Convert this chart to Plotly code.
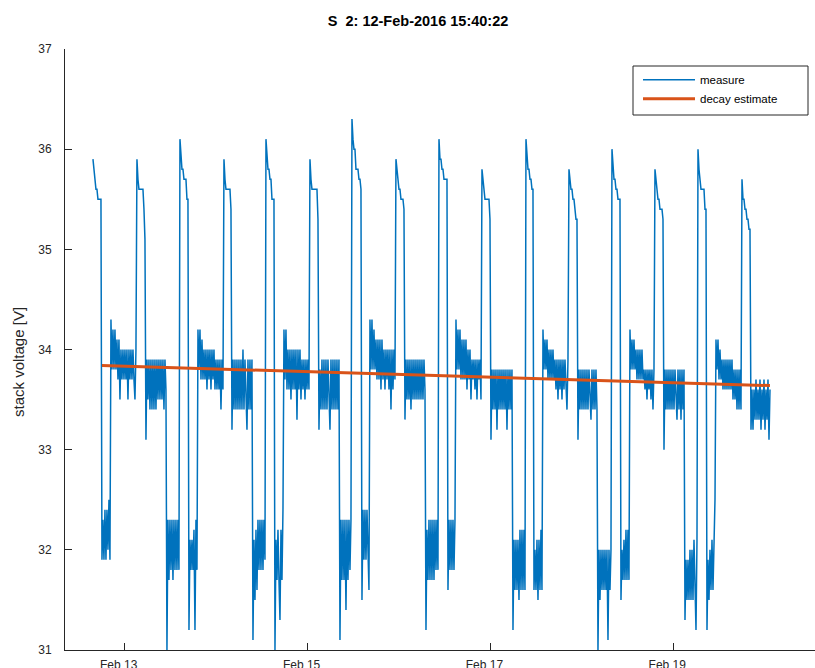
import pandas as pd
import plotly.graph_objects as go

# ---- data (stack voltage, tenths of a volt, one sample every 945 s) ----
START = "2016-02-12 15:40:22"
SAMPLE_SECONDS = 945

cyc_a = [359,358,357,356,356,355,355,355,355,
         319,323,319,324,319,324,320,325,319,
         343,338,342,338,342,338,341,337,341,335,340,337,340,337,340,337,340,335,340,337,340,337,340,337,335,340]
cyc_b = [359,357,356,356,356,356,356,354,351,
         331,339,335,339,334,339,334,339,334,339,334,339,335,339,335,339,335,339,334,339,336,
         310,323,317,323,318,323,317,323,318,323,318,323,318]
cyc_c = [361,359,358,358,357,357,357,355,355,
         312,321,318,321,318,322,312,323,318,
         342,338,342,337,341,337,340,337,340,336,340,337,340,336,340,337,340,336,339,336,339,336,339,334,339,336]
cyc_d = [359,357,356,356,356,356,356,354,
         332,339,334,339,334,339,334,339,334,339,334,340,334,339,334,332,339,334,339,334,339,
         311,321,315,322,316,323,318,323,318,323,318,323,319]
cyc_e = [361,359,358,358,357,357,355,355,355,
         310,321,317,322,317,313,322,317,324,
         342,337,342,336,340,336,340,335,340,336,340,336,340,333,340,336,340,335,339,336,339,335,339,336,339,336]
cyc_f = [359,357,356,356,356,356,356,356,353,
         332,338,334,339,334,339,334,339,334,339,334,332,339,334,339,334,339,334,339,334,339,
         311,323,317,323,317,323,314,323,317,323,318,323]
cyc_g = [363,361,360,360,358,358,358,357,357,356,
         315,324,319,324,319,324,319,316,
         343,338,343,338,342,338,341,337,341,337,341,336,341,337,340,336,340,337,340,336,340,334,340,336,340,337]
cyc_h = [359,358,357,356,356,355,355,355,354,
         333,339,335,339,335,339,334,339,335,339,335,339,335,339,335,339,335,339,335,339,336,
         312,322,317,323,317,323,317,323,317,323,318,323,318]
cyc_i = [361,359,359,358,358,357,357,357,357,
         316,323,318,323,318,323,318,323,
         343,338,342,338,342,337,341,337,341,337,341,336,340,337,340,335,339,337,339,336,339,335,339,337,339,335]
cyc_j = [358,357,356,355,355,355,355,355,353,
         331,338,334,338,334,338,332,338,334,338,334,338,334,338,334,338,332,338,334,338,334,338,
         312,321,316,321,316,321,315,322,316,322,316,322,316]
cyc_k = [361,359,358,358,357,357,356,356,
         316,320,316,321,315,321,316,322,316,
         342,338,341,338,341,337,340,337,340,337,340,337,339,336,339,335,339,336,339,335,339,336,339,335,334,339]
cyc_l = [358,357,356,356,355,355,354,353,353,
         331,338,334,338,334,338,334,338,334,338,334,338,334,333,338,334,338,334,338,334,
         310,320,315,320,316,320,316,320,316,320,311,320,316,320]
cyc_m = [360,358,357,357,356,356,355,355,355,
         315,320,317,321,317,322,317,322,317,
         342,338,341,338,341,338,340,337,340,337,340,337,340,337,338,336,338,335,338,336,338,335,338,334,338]
cyc_n = [358,357,356,355,355,354,354,354,353,
         330,338,334,338,334,338,334,338,334,338,334,338,334,333,338,334,338,333,338,334,338,
         313,319,315,319,315,320,315,320,315,321,315,312,321]
cyc_o = [360,358,357,356,356,356,356,354,354,
         312,319,315,320,316,321,316,322,325,
         341,338,341,337,340,337,339,336,339,336,339,336,339,336,339,336,339,335,338,335,338,334,338,334,338,334]
cyc_p = [357,355,355,354,354,353,353,352,352,
         332,336,332,336,333,337,333,336,333,337,332,336,333,337,332,336,333,337,331,336]

decay_times = ["2016-02-12 18:02", "2016-02-20 01:23"]
decay_values = [33.84, 33.64]

# ---- build ----
tenths = (cyc_a + cyc_b + cyc_c + cyc_d + cyc_e + cyc_f + cyc_g + cyc_h +
          cyc_i + cyc_j + cyc_k + cyc_l + cyc_m + cyc_n + cyc_o + cyc_p)
volts = [v / 10 for v in tenths]
times = pd.date_range(START, periods=len(volts), freq=f"{SAMPLE_SECONDS}s")

AX = "#262626"
FONT = "Liberation Sans, Arial, Helvetica, sans-serif"

fig = go.Figure()
fig.add_trace(go.Scatter(x=times, y=volts, mode="lines", name="measure",
                         line=dict(color="#0072BD", width=1.5)))
fig.add_trace(go.Scatter(x=pd.to_datetime(decay_times), y=decay_values, mode="lines",
                         name="decay estimate", line=dict(color="#D95319", width=3)))

fig.update_layout(
    width=815, height=668,
    margin=dict(l=65, r=0, t=49, b=18, autoexpand=False),
    paper_bgcolor="white", plot_bgcolor="white",
    font=dict(family=FONT, size=12, color=AX),
    title=dict(text="<b>S \u00a02: 12-Feb-2016 15:40:22</b>", x=0.4707, xref="paper",
               xanchor="center", y=0.969, yref="container", yanchor="middle",
               font=dict(family=FONT, size=14.5, color="black")),
    showlegend=True,
    legend=dict(x=(638 - 65) / 750, y=0.973, xanchor="left", yanchor="top",
                bgcolor="rgba(0,0,0,0)", borderwidth=0, itemwidth=52,
                font=dict(family=FONT, size=11.5, color="black"), tracegroupgap=0),
    shapes=[dict(type="rect", xref="paper", yref="paper",
                 x0=(633 - 65) / 750, x1=(808 - 65) / 750,
                 y0=1 - (115 - 49) / 601, y1=1 - (66 - 49) / 601,
                 line=dict(color=AX, width=1), fillcolor="white", layer="below")],
    annotations=[dict(text="stack voltage [V]", xref="paper", yref="paper",
                      x=(18 - 65) / 750, y=1 - (362 - 49) / 601, textangle=-90,
                      showarrow=False, xanchor="center", yanchor="middle",
                      font=dict(family=FONT, size=15, color=AX))],
)
fig.update_xaxes(type="date", range=["2016-02-12 08:20", "2016-02-20 13:12"],
                 tick0="2016-02-13", dtick=2 * 86400000, tickformat="%b %d",
                 ticks="inside", ticklen=7, tickwidth=1, tickcolor=AX,
                 showline=True, linecolor=AX, linewidth=1, mirror=False, automargin=False,
                 showgrid=False, zeroline=False, ticklabelshift=-6, ticklabelstandoff=4)
fig.update_yaxes(range=[31, 37], dtick=1, ticks="inside", ticklen=7, tickwidth=1,
                 tickcolor=AX, showline=True, linecolor=AX, linewidth=1, mirror=False,
                 automargin=False, showgrid=False, zeroline=False, ticklabelstandoff=10)

fig.write_html("out.html", config={"displayModeBar": False},
               post_script="document.body.style.margin='0';document.body.style.overflow='hidden';")
